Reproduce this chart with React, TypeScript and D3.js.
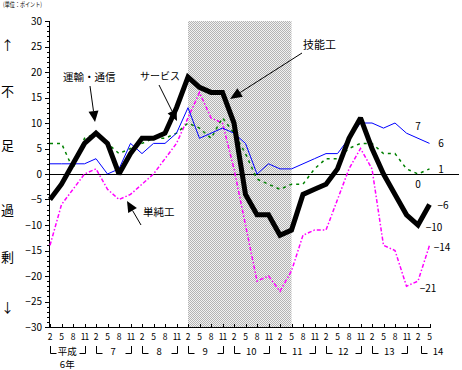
import React from "react";
import * as d3 from "d3";

// ---- data (index 0 = 平成6年2月 ... index 33 = 平成14年5月) ----
const quarterLabels = [
  "2", "5", "8", "11", "2", "5", "8", "11", "2", "5", "8", "11",
  "2", "5", "8", "11", "2", "5", "8", "11", "2", "5", "8", "11",
  "2", "5", "8", "11", "2", "5", "8", "11", "2", "5",
];
const yearLabels = ["7", "8", "9", "10", "11", "12", "13"];
const yTicks = [30, 25, 20, 15, 10, 5, 0, -5, -10, -15, -20, -25, -30];

// 技能工 (thick black)
const skilled = [
  -5, -2, 2, 6, 8, 6, 0, 4, 7, 7, 8, 13,
  19, 17, 16, 16, 10, -4, -8, -8, -12, -11, -4, -3,
  -2, 1, 7, 11, 5, 0, -4, -8, -10, -6,
];
// サービス (blue)
const service = [
  2, 2, 2, 2, 3, 0, 1, 6, 4, 6, 6, 8,
  13, 7, 8, 9, 8, 6, 0, 2, 1, 1, 2, 3,
  4, 4, 7, 10, 10, 9, 10, 8, 7, 6,
];
// 運輸・通信 (green dotted)
const transport = [
  6, 6, 1, 7, 8, 6, 4, 5, 6, 7, 7, 8,
  10, 9, 7, 11, 8, 4, -1, -2, -3, -2, -2, 1,
  3, 3, 5, 6, 6, 4, 4, 1, 0, 1,
];
// 単純工 (magenta dash-dot)
const unskilled = [
  -14, -6, -3, 0, 1, -3, -5, -4, -2, 0, 3, 6,
  11, 16, 11, 10, 1, -10, -21, -20, -23, -19, -12, -11,
  -11, -5, 1, 5, 1, -14, -15, -22, -21, -14,
];

const endLabels = [
  { t: "7", x: 418, y: 126 },
  { t: "6", x: 441, y: 143 },
  { t: "1", x: 441, y: 169 },
  { t: "0", x: 418, y: 184 },
  { t: "−6", x: 443, y: 205 },
  { t: "−10", x: 434, y: 227 },
  { t: "−14", x: 442, y: 247 },
  { t: "−21", x: 428, y: 288 },
];

const FONT = "'Noto Sans CJK JP', 'Noto Sans', sans-serif";

function Arrow({ x1, y1, x2, y2, len = 11, half = 5 }: any) {
  const dx = x2 - x1;
  const dy = y2 - y1;
  const d = Math.hypot(dx, dy);
  const ux = dx / d;
  const uy = dy / d;
  const bx = x2 - ux * len;
  const by = y2 - uy * len;
  const px = -uy * half;
  const py = ux * half;
  return (
    <g>
      <line x1={x1} y1={y1} x2={bx} y2={by} stroke="#000" strokeWidth={1} />
      <path
        d={`M${x2},${y2}L${bx + px},${by + py}L${bx - px},${by - py}Z`}
        fill="#000"
      />
    </g>
  );
}

export default function App() {
  const W = 462;
  const H = 370;
  const x = d3.scaleLinear().domain([0, 33]).range([50, 429.5]);
  const y = d3.scaleLinear().domain([-30, 30]).range([327, 21]);
  const line = d3
    .line<number>()
    .x((_, i) => x(i))
    .y((v) => y(v));

  const minor = d3.range(-30, 31, 1);

  return (
    <svg
      width={W}
      height={H}
      style={{ position: "fixed", left: 0, top: 0, background: "#fff" }}
      fontFamily={FONT}
    >
      <defs>
        <pattern id="chk" width="2" height="2" patternUnits="userSpaceOnUse">
          <rect width="2" height="2" fill="#f2f2f2" />
          <rect width="1" height="1" fill="#b4b4b4" />
          <rect x="1" y="1" width="1" height="1" fill="#b4b4b4" />
        </pattern>
      </defs>

      {/* shaded recession period */}
      <rect
        x={x(12)}
        y={y(30)}
        width={x(21) - x(12)}
        height={y(-30) - y(30)}
        fill="url(#chk)"
      />

      {/* title */}
      <text x={3} y={7} fontSize={6.5} textLength={39} lengthAdjust="spacingAndGlyphs">
        (単位：ポイント)
      </text>

      {/* y axis */}
      <line x1={49.5} y1={y(30)} x2={49.5} y2={y(-30)} stroke="#000" />
      {minor.map((v) => (
        <line
          key={"m" + v}
          x1={v % 5 === 0 ? 45 : 47}
          x2={49.5}
          y1={Math.round(y(v)) + 0.5}
          y2={Math.round(y(v)) + 0.5}
          stroke="#000"
        />
      ))}
      {yTicks.map((v) => (
        <text
          key={"yt" + v}
          x={42}
          y={y(v) + 3.5}
          fontSize={10}
          textAnchor="end"
        >
          {v < 0 ? "−" + Math.abs(v) : String(v)}
        </text>
      ))}

      {/* left vertical caption */}
      {[
        { t: "↑", yy: 45 },
        { t: "不", yy: 91 },
        { t: "足", yy: 145 },
        { t: "過", yy: 210 },
        { t: "剰", yy: 257 },
        { t: "↓", yy: 307 },
      ].map((c) => (
        <text key={c.t} x={7.5} y={c.yy + 4.5} fontSize={13} textAnchor="middle">
          {c.t}
        </text>
      ))}

      {/* x axis */}
      <line x1={49} y1={327.5} x2={431} y2={327.5} stroke="#000" />
      {quarterLabels.map((q, i) => (
        <g key={"q" + i}>
          <line
            x1={Math.round(x(i)) + 0.5}
            x2={Math.round(x(i)) + 0.5}
            y1={324}
            y2={327.5}
            stroke="#000"
          />
          <text
            x={x(i)}
            y={339.5}
            fontSize={8.5}
            textAnchor="middle"
            letterSpacing={q === "11" ? -1 : 0}
          >
            {q}
          </text>
        </g>
      ))}

      {/* year brackets */}
      {d3.range(0, 8).map((k) => {
        const a = Math.round(x(4 * k)) + 0.5;
        const b = Math.round(x(4 * k + 3)) + 0.5;
        return (
          <g key={"yb" + k} stroke="#000" fill="none">
            <path d={`M${a},346V353.5H${a + 6}`} />
            <path d={`M${b - 6},353.5H${b}V346`} />
          </g>
        );
      })}
      <path
        d={`M${Math.round(x(32)) + 3.5},346V353.5H${Math.round(x(32)) + 9.5}`}
        stroke="#000"
        fill="none"
      />
      <text x={(x(0) + x(3)) / 2} y={355} fontSize={9.5} textAnchor="middle">
        平成
      </text>
      <text x={(x(0) + x(3)) / 2} y={367.5} fontSize={9.5} textAnchor="middle">
        6年
      </text>
      {yearLabels.map((t, k) => (
        <text
          key={"yl" + t}
          x={(x(4 * (k + 1)) + x(4 * (k + 1) + 3)) / 2}
          y={355}
          fontSize={9.5}
          textAnchor="middle"
        >
          {t}
        </text>
      ))}
      <text x={x(32) + 20} y={355} fontSize={9.5} textAnchor="middle">
        14
      </text>

      {/* zero line */}
      <line x1={49} y1={y(0) + 0.5} x2={459} y2={y(0) + 0.5} stroke="#000" />

      {/* series */}
      <path
        d={line(unskilled) || ""}
        fill="none"
        stroke="#ff00ff"
        strokeWidth={1.5}
        strokeDasharray="4,2,1.5,2"
      />
      <path
        d={line(transport) || ""}
        fill="none"
        stroke="#008000"
        strokeWidth={1.5}
        strokeDasharray="3,4"
      />
      <path d={line(service) || ""} fill="none" stroke="#0000ff" strokeWidth={1} />
      <path
        d={line(skilled) || ""}
        fill="none"
        stroke="#000"
        strokeWidth={5}
        strokeLinejoin="miter"
        strokeMiterlimit={2}
      />

      {/* end labels */}
      {endLabels.map((l) => (
        <text key={l.t} x={l.x} y={l.y + 3.5} fontSize={10} textAnchor="middle">
          {l.t}
        </text>
      ))}

      {/* annotations */}
      <text x={63} y={81} fontSize={10.5}>
        運輸・通信
      </text>
      <Arrow x1={90} y1={86} x2={95} y2={122} len={11} half={5} />

      <text x={140} y={80} fontSize={10}>
        サービス
      </text>
      <Arrow x1={159} y1={85} x2={177} y2={121} len={11} half={5} />

      <text x={303} y={49} fontSize={11}>
        技能工
      </text>
      <Arrow x1={302} y1={53} x2={230} y2={99} len={12} half={5} />

      <text x={143} y={216} fontSize={10.5}>
        単純工
      </text>
      <Arrow x1={141} y1={225} x2={127} y2={201} len={11} half={5} />
    </svg>
  );
}
